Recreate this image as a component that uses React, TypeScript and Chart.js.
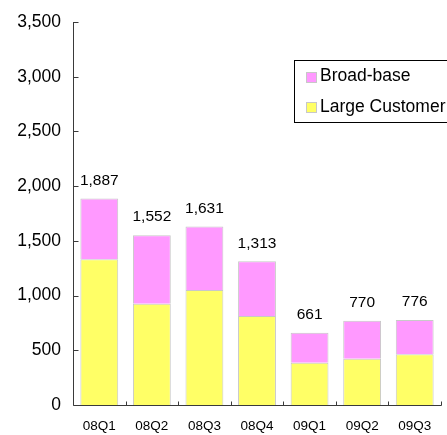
import React, { useEffect, useRef } from "react";
import { Chart, registerables } from "chart.js";

Chart.register(...registerables);

const categories = ["08Q1", "08Q2", "08Q3", "08Q4", "09Q1", "09Q2", "09Q3"];
const largeCustomer = [1332, 926, 1051, 813, 387, 423, 463];
const broadBase = [555, 626, 580, 500, 274, 347, 313];
const yTicks = [0, 500, 1000, 1500, 2000, 2500, 3000, 3500];

const FONT = "'Liberation Sans', Arial, sans-serif";
const PINK = "#FF99FF";
const YELLOW = "#FFFF66";
const BORDER = "#C8C8C8";
const AXIS = "#3a3a3a";

const fmt = (v: number) => v.toLocaleString("en-US");

const overlay = {
  id: "overlay",
  afterDraw(chart: any) {
    const ctx = chart.ctx;
    const { left, right, bottom } = chart.chartArea;
    const xs = chart.scales.x;
    const ys = chart.scales.y;
    ctx.save();
    ctx.strokeStyle = AXIS;
    ctx.lineWidth = 1;
    const ax = Math.round(left) + 0.5;
    const ay = Math.round(bottom) + 0.5;
    ctx.beginPath();
    ctx.moveTo(ax, Math.round(ys.getPixelForValue(3500)));
    ctx.lineTo(ax, ay);
    ctx.lineTo(Math.round(right) + 0.5, ay);
    ctx.stroke();
    ctx.beginPath();
    yTicks.forEach((v) => {
      const y = Math.round(ys.getPixelForValue(v)) + 0.5;
      ctx.moveTo(ax, y);
      ctx.lineTo(ax + 5, y);
    });
    const n = categories.length;
    const w = (right - left) / n;
    for (let i = 1; i <= n; i++) {
      const x = Math.round(left + i * w) + 0.5;
      ctx.moveTo(x, ay);
      ctx.lineTo(x, ay - 4);
    }
    ctx.stroke();

    ctx.fillStyle = "#000";
    ctx.textBaseline = "middle";
    // y tick labels
    ctx.font = `17.5px ${FONT}`;
    ctx.textAlign = "right";
    yTicks.forEach((v) => {
      ctx.fillText(fmt(v), left - 12, ys.getPixelForValue(v));
    });
    // x tick labels
    ctx.font = `13.5px ${FONT}`;
    ctx.textAlign = "center";
    categories.forEach((c, i) => {
      ctx.fillText(c, xs.getPixelForValue(i), bottom + 21);
    });

    // total labels
    ctx.font = `15.5px ${FONT}`;
    categories.forEach((_, i) => {
      const total = largeCustomer[i] + broadBase[i];
      const x = xs.getPixelForValue(i);
      const y = ys.getPixelForValue(total);
      ctx.fillText(fmt(total), x, y - 18);
    });

    // legend
    ctx.strokeStyle = "#000";
    ctx.lineWidth = 1;
    ctx.strokeRect(294.5, 60.5, 200, 62);
    const items = [
      { label: "Broad-base", color: PINK, y: 76.5 },
      { label: "Large Customer", color: YELLOW, y: 107 },
    ];
    ctx.textAlign = "left";
    ctx.font = `17.5px ${FONT}`;
    items.forEach((it) => {
      ctx.fillStyle = it.color;
      ctx.fillRect(306, Math.round(it.y - 5), 10, 10);
      ctx.strokeStyle = BORDER;
      ctx.strokeRect(306.5, Math.round(it.y - 5) + 0.5, 10, 10);
      ctx.fillStyle = "#000";
      ctx.fillText(it.label, 320, it.y);
    });
    ctx.restore();
  },
};

export default function App() {
  const ref = useRef<HTMLCanvasElement | null>(null);
  useEffect(() => {
    if (!ref.current) return;
    const chart = new Chart(ref.current, {
      type: "bar",
      data: {
        labels: categories,
        datasets: [
          {
            label: "Large Customer",
            data: largeCustomer,
            backgroundColor: YELLOW,
            borderColor: BORDER,
            borderWidth: 1,
            barPercentage: 0.72,
            categoryPercentage: 1,
          },
          {
            label: "Broad-base",
            data: broadBase,
            backgroundColor: PINK,
            borderColor: BORDER,
            borderWidth: 1,
            barPercentage: 0.72,
            categoryPercentage: 1,
          },
        ],
      },
      options: {
        animation: false,
        responsive: false,
        layout: { padding: { top: 22, right: 6, left: 0, bottom: 0 } },
        plugins: { legend: { display: false }, tooltip: { enabled: false } },
        scales: {
          x: {
            stacked: true,
            grid: { display: false, drawTicks: false },
            border: { display: false },
            ticks: { display: false },
            afterFit: (s: any) => {
              s.height = 30;
            },
          },
          y: {
            stacked: true,
            min: 0,
            max: 3500,
            grid: { display: false, drawTicks: false },
            border: { display: false },
            ticks: { display: false, stepSize: 500 },
            afterFit: (s: any) => {
              s.width = 73;
            },
          },
        },
      },
      plugins: [overlay],
    });
    return () => chart.destroy();
  }, []);
  return (
    <div style={{ position: "absolute", left: 0, top: 0 }}>
      <canvas ref={ref} width={447} height={435} />
    </div>
  );
}
